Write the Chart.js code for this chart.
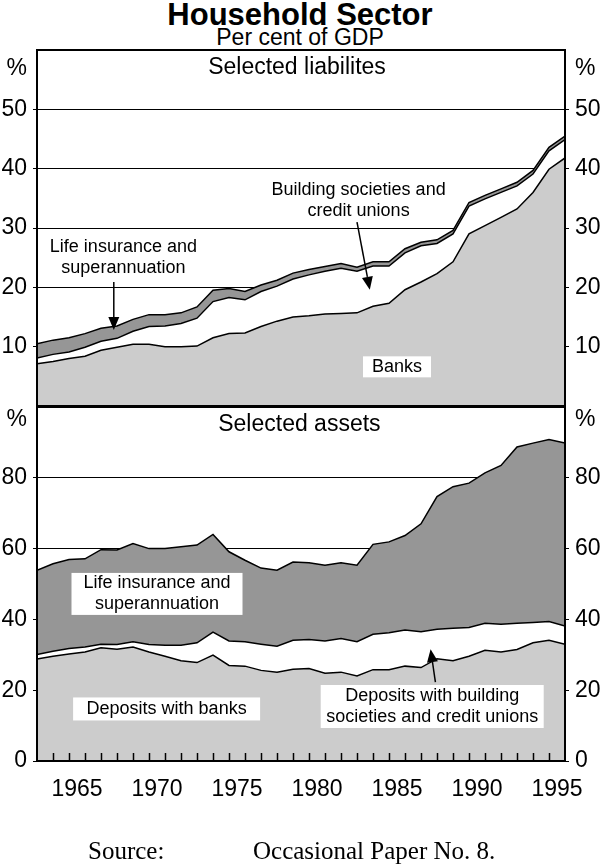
<!DOCTYPE html>
<html>
<head>
<meta charset="utf-8">
<script src="https://cdn.jsdelivr.net/npm/chart.js@4.4.1/dist/chart.umd.min.js"></script>
<style>
  html, body { margin: 0; padding: 0; background: #fff; }
  #wrap { position: relative; width: 600px; height: 865px; overflow: hidden;
          font-family: "Liberation Sans", Arial, Helvetica, sans-serif; color: #000; }
  #t1 { position: absolute; left: 0; top: -1px; width: 600px; text-align: center;
        font-weight: bold; font-size: 31px; line-height: 31px; }
  #t2 { position: absolute; left: 0; top: 26px; width: 600px; text-align: center;
        font-size: 23px; line-height: 23px; }
  canvas { position: absolute; left: 0; }
  #c1 { top: 0; }
  #c2 { top: 400px; }
  #src { position: absolute; left: 88px; top: 838px; font-family: "Liberation Serif", "Times New Roman", serif;
         font-size: 25px; line-height: 25px; white-space: nowrap; }
  #src .p { position: absolute; left: 165px; top: 0; }
</style>
</head>
<body>
<div id="wrap">
  <div id="t1">Household Sector</div>
  <div id="t2">Per cent of GDP</div>
  <canvas id="c1" width="600" height="420"></canvas>
  <canvas id="c2" width="600" height="465"></canvas>
  <div id="src"><span>Source:</span><span class="p">Occasional Paper No. 8.</span></div>
</div>
<script>
// ---------------- data (per cent of GDP, annual) ----------------
const years = [1962,1963,1964,1965,1966,1967,1968,1969,1970,1971,
               1972,1973,1974,1975,1976,1977,1978,1979,1980,1981,
               1982,1983,1984,1985,1986,1987,1988,1989,1990,1991,
               1992,1993,1994,1995];

// Selected liabilities
const liabBanks = [7.1,7.5,8.0,8.4,9.4,9.9,10.4,10.4,10.0,10.0,
                   10.1,11.5,12.2,12.3,13.4,14.3,15.0,15.2,15.5,15.6,
                   15.7,16.8,17.3,19.6,20.9,22.3,24.3,29.0,30.4,31.8,
                   33.2,36.0,39.9,41.8];
const liabBuildingSoc = [1.0,1.2,1.1,1.5,1.5,1.5,2.2,3.0,3.5,3.9,
                   4.7,6.1,6.1,5.6,5.9,5.9,6.4,6.9,7.2,7.6,
                   7.0,6.8,6.3,6.2,6.1,5.1,4.7,4.7,4.5,4.2,
                   3.9,3.1,3.1,3.1];
const liabLifeIns = [2.4,2.4,2.4,2.3,2.2,2.1,2.0,2.0,1.9,1.8,
                   1.9,1.9,1.5,1.4,1.1,1.0,1.0,0.9,0.8,0.8,
                   0.7,0.7,0.7,0.7,0.6,0.6,0.6,0.6,0.6,0.6,
                   0.6,0.6,0.6,0.6];

// Selected assets
const assetBanks = [28.8,29.6,30.2,30.8,32.0,31.6,32.2,30.8,29.6,28.3,
                    27.8,29.9,27.0,26.8,25.6,25.1,25.9,26.1,24.8,25.1,
                    24.0,25.8,25.8,26.8,26.4,28.9,28.3,29.6,31.3,30.8,
                    31.5,33.4,34.1,33.0];
const assetBuildingSoc = [1.3,1.4,1.6,1.4,1.0,1.3,1.5,2.1,3.1,4.4,
                    5.6,6.5,6.9,6.9,7.4,7.3,8.2,8.2,9.1,9.5,
                    9.7,10.0,10.4,10.2,10.1,8.3,9.2,8.1,7.6,7.8,
                    7.4,5.7,5.3,5.1];
const assetLifeIns = [23.8,24.7,25.1,24.9,26.7,26.7,27.7,27.1,27.3,27.8,
                    27.6,27.6,25.2,23.0,21.5,21.5,22.1,21.7,21.4,21.4,
                    21.6,25.4,25.7,26.7,30.5,37.5,40.0,40.8,42.5,44.9,
                    49.8,50.7,51.4,51.7];

// tick labels
const xLabelYears = [1965,1970,1975,1980,1985,1990,1995];
const liabTicks = [10,20,30,40,50];
const assetTicks = [0,20,40,60,80];

// ---------------- presentation ----------------
const F = '"Liberation Sans", Arial, Helvetica, sans-serif';
const LIGHT = '#cccccc', DARK = '#969696';
const X_MIN = 1962.5, X_MAX = 1995.5;
const xPos = yr => yr + 0.5; // annual observations plotted mid-year

function series(vals) { return vals.map((v, i) => ({ x: xPos(years[i]), y: v })); }
function ds(label, vals, fill, bg) {
  return { label, data: series(vals), fill, backgroundColor: bg, borderColor: '#000',
           borderWidth: 1.5, pointRadius: 0, pointHoverRadius: 0, tension: 0 };
}

const panelPlugin = {
  id: 'panel',
  afterDatasetsDraw(chart, args, opts) {
    const { ctx, chartArea: a, scales } = chart;
    const xs = scales.x, ys = scales.y;
    ctx.save();
    ctx.strokeStyle = '#000'; ctx.fillStyle = '#000';
    // inward year tick marks
    if (opts.yearTicks) {
      ctx.lineWidth = 1.5;
      years.forEach(yr => {
        const v = xPos(yr);
        if (v <= xs.min || v >= xs.max) return;
        const px = Math.round(xs.getPixelForValue(v)) + 0.5;
        ctx.beginPath(); ctx.moveTo(px, a.bottom); ctx.lineTo(px, a.bottom - 8); ctx.stroke();
      });
    }
    // frame
    ctx.lineWidth = 2;
    ctx.strokeRect(a.left, a.top, a.right - a.left, a.bottom - a.top);
    // % unit labels
    ctx.font = '23px ' + F; ctx.textBaseline = 'middle';
    const py = ys.getPixelForValue(opts.pctAt);
    ctx.textAlign = 'right'; ctx.fillText('%', a.left - 10, py);
    ctx.textAlign = 'left'; ctx.fillText('%', a.right + 10, py);
    // arrows
    ctx.lineWidth = 1.5;
    (opts.arrows || []).forEach(ar => {
      const x1 = xs.getPixelForValue(ar.from[0]), y1 = ys.getPixelForValue(ar.from[1]);
      const x2 = xs.getPixelForValue(ar.to[0]), y2 = ys.getPixelForValue(ar.to[1]);
      const ang = Math.atan2(y2 - y1, x2 - x1), L = 13, W = 5.5;
      const bx = x2 - L * Math.cos(ang), by = y2 - L * Math.sin(ang);
      ctx.beginPath(); ctx.moveTo(x1, y1); ctx.lineTo(bx, by); ctx.stroke();
      ctx.beginPath(); ctx.moveTo(x2, y2);
      ctx.lineTo(bx + W * Math.sin(ang), by - W * Math.cos(ang));
      ctx.lineTo(bx - W * Math.sin(ang), by + W * Math.cos(ang));
      ctx.closePath(); ctx.fill();
    });
    // text notes
    (opts.notes || []).forEach(n => {
      const cx = xs.getPixelForValue(n.x), cy = ys.getPixelForValue(n.y);
      const size = n.size || 18, lh = n.lh || 21;
      if (n.box) {
        ctx.fillStyle = '#fff';
        ctx.fillRect(cx - n.box[0] / 2, cy - n.box[1] / 2, n.box[0], n.box[1]);
      }
      ctx.fillStyle = '#000';
      ctx.font = size + 'px ' + F; ctx.textAlign = 'center'; ctx.textBaseline = 'middle';
      n.lines.forEach((t, i) => ctx.fillText(t, cx, cy + (i - (n.lines.length - 1) / 2) * lh));
    });
    ctx.restore();
  }
};

function fixV(w) {
  return s => { s.width = w; s.paddingTop = 0; s.paddingBottom = 0; };
}

function yAxes(max, ticksArr, leftW, rightW) {
  const common = {
    min: 0, max,
    afterBuildTicks: s => { s.ticks = ticksArr.map(v => ({ value: v })); },
    ticks: { font: { family: F, size: 23 }, color: '#000', padding: 6, callback: v => String(v) },
    border: { display: false }
  };
  return {
    y: Object.assign({}, common, { position: 'left', stacked: true,
      afterFit: fixV(leftW),
      grid: { color: '#000', lineWidth: 1, tickLength: 4, drawTicks: true } }),
    y2: Object.assign({}, common, { position: 'right',
      afterFit: fixV(rightW),
      grid: { color: '#000', lineWidth: 1, tickLength: 4, drawTicks: true, drawOnChartArea: false } })
  };
}

// Top panel: selected liabilities
new Chart(document.getElementById('c1'), {
  type: 'line',
  data: { datasets: [
    ds('Banks', liabBanks, 'origin', LIGHT),
    ds('Building societies and credit unions', liabBuildingSoc, '-1', '#ffffff'),
    ds('Life insurance and superannuation', liabLifeIns, '-1', DARK)
  ] },
  options: {
    responsive: false, animation: false, events: [],
    layout: { padding: { top: 50, bottom: 14, left: 0, right: 0 } },
    plugins: {
      legend: { display: false }, tooltip: { enabled: false },
      panel: {
        pctAt: 56.8,
        notes: [
          { lines: ['Selected liabilites'], x: 1978.75, y: 57.0, size: 23 },
          { lines: ['Building societies and', 'credit unions'], x: 1982.6, y: 34.7 },
          { lines: ['Life insurance and', 'superannuation'], x: 1967.9, y: 25.0 },
          { lines: ['Banks'], x: 1985.0, y: 6.6, box: [68, 21] }
        ],
        arrows: [
          { from: [1982.5, 31.0], to: [1983.3, 19.6] },
          { from: [1967.3, 20.9], to: [1967.3, 12.8] }
        ]
      }
    },
    scales: Object.assign({
      x: { type: 'linear', min: X_MIN, max: X_MAX, display: false }
    }, yAxes(60, liabTicks, 37, 35))
  },
  plugins: [panelPlugin]
});

// Bottom panel: selected assets
new Chart(document.getElementById('c2'), {
  type: 'line',
  data: { datasets: [
    ds('Deposits with banks', assetBanks, 'origin', LIGHT),
    ds('Deposits with building societies and credit unions', assetBuildingSoc, '-1', '#ffffff'),
    ds('Life insurance and superannuation', assetLifeIns, '-1', DARK)
  ] },
  options: {
    responsive: false, animation: false, events: [],
    layout: { padding: { top: 7, bottom: 60, left: 0, right: 0 } },
    plugins: {
      legend: { display: false }, tooltip: { enabled: false },
      panel: {
        pctAt: 96.5, yearTicks: true,
        notes: [
          { lines: ['Selected assets'], x: 1978.9, y: 94.9, size: 23 },
          { lines: ['Life insurance and', 'superannuation'], x: 1970.0, y: 47.2, box: [171, 42] },
          { lines: ['Deposits with banks'], x: 1970.6, y: 14.7, box: [187, 23] },
          { lines: ['Deposits with building', 'societies and credit unions'], x: 1987.2, y: 15.4, box: [223, 43] }
        ],
        arrows: [ { from: [1987.4, 22.3], to: [1987.1, 31.6] } ]
      }
    },
    scales: Object.assign({
      x: { type: 'linear', min: X_MIN, max: X_MAX, position: 'bottom',
           afterBuildTicks: s => { s.ticks = xLabelYears.map(v => ({ value: v })); },
           afterFit: s => { s.height = 44; s.paddingLeft = 0; s.paddingRight = 0; },
           grid: { display: false }, border: { display: false },
           ticks: { font: { family: F, size: 23 }, color: '#000', padding: 7,
                    autoSkip: false, maxRotation: 0, callback: v => String(v) } }
    }, yAxes(100, assetTicks, 37, 35))
  },
  plugins: [panelPlugin]
});
</script>
</body>
</html>
